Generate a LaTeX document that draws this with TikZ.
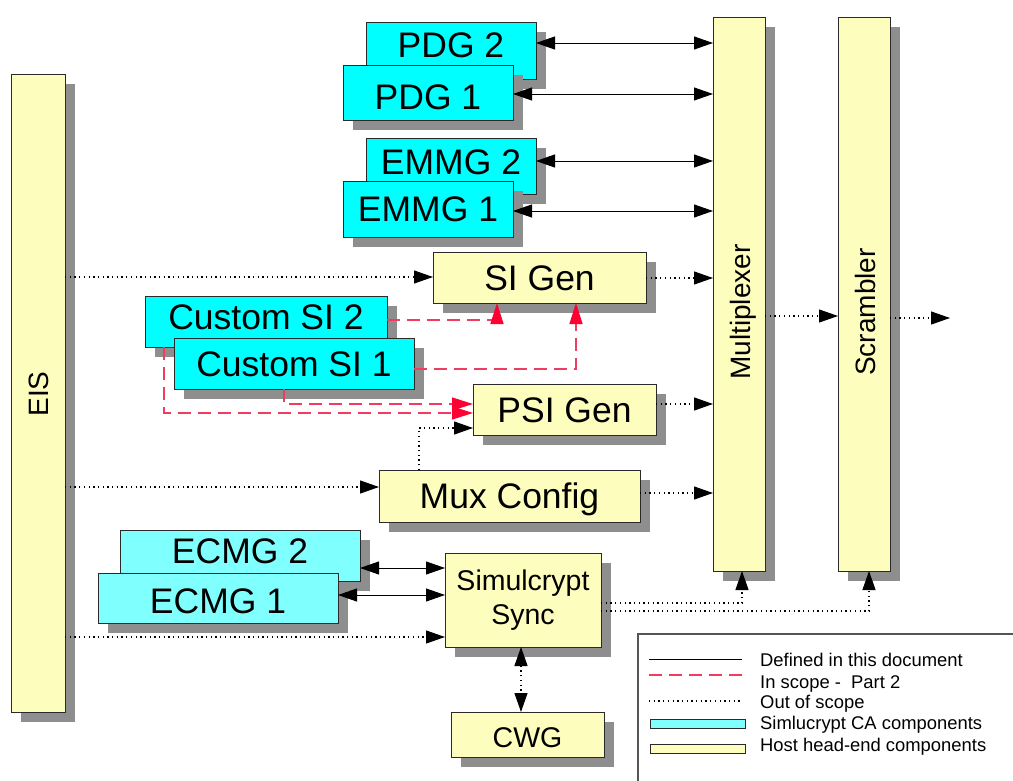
\documentclass[tikz,border=0pt]{standalone}
\usepackage{fontspec}
\setmainfont{Liberation Sans}
\usetikzlibrary{arrows.meta,shadows}
\definecolor{cyanA}{HTML}{00FFFF}
\definecolor{cyanB}{HTML}{80FFFF}
\definecolor{paleY}{HTML}{FDFDBE}
\definecolor{shadeG}{HTML}{8E8E8E}
\definecolor{edgeC}{HTML}{2A2A2A}
\definecolor{redL}{RGB}{240,60,95}
\definecolor{redT}{RGB}{255,0,50}
\tikzset{
  >={Triangle[length=19pt,width=13pt]},
  basebox/.style={draw=edgeC, line width=0.9pt, rectangle, inner sep=0pt, outer sep=0pt,
    drop shadow={shadow xshift=10pt, shadow yshift=-10pt, fill=shadeG, opacity=1, draw=none}},
  cbox/.style={basebox, fill=cyanA},
  lcbox/.style={basebox, fill=cyanB},
  ybox/.style={basebox, fill=paleY},
  big/.style={font=\fontsize{35.5pt}{40pt}\selectfont, text height=25.4pt, text depth=0pt},
  mid/.style={font=\fontsize{28.5pt}{34pt}\selectfont},
  rlbl/.style={rotate=90, font=\fontsize{28pt}{32pt}\selectfont, text height=20pt, text depth=0pt, inner sep=0pt},
  sol/.style={draw=black, line width=0.9pt},
  dotl/.style={draw=black, line width=1.1pt, dash pattern=on 1.3pt off 3.4pt},
  redd/.style={draw=redL, line width=1.2pt, dash pattern=on 13pt off 7pt,
    -{Triangle[length=21pt,width=13pt,color=redT]}},
  leg/.style={font=\fontsize{18.4pt}{22pt}\selectfont, text height=13.2pt, text depth=0pt, inner sep=0pt, anchor=west},
  legframe/.style={draw=edgeC!80, line width=1.4pt}
}
\begin{document}
\begin{tikzpicture}[x=1pt,y=-1pt]
\useasboundingbox (0,0) rectangle (1013,781);
\clip (0,0) rectangle (1013,781);

% tall blocks
\node[ybox, minimum width=54pt, minimum height=638pt] (eis) at (38,393) {};
\node[rlbl] (eislbl) at (38,394) {EIS};
\node[ybox, minimum width=52pt, minimum height=554pt] (mux) at (739,294) {};
\node[rlbl] (muxlbl) at (740,312) {Multiplexer};
\node[ybox, minimum width=52pt, minimum height=554pt] (scr) at (864,294) {};
\node[rlbl] (scrlbl) at (865,312) {Scrambler};

% CA components
\node[cbox, big, minimum width=170pt, minimum height=57pt, text depth=11pt] (pdg2) at (451,50.5) {PDG 2};
\node[cbox, big, minimum width=170pt, minimum height=55pt, text height=33.4pt] (pdg1) at (428,92.5) {PDG 1};
\node[cbox, big, minimum width=170pt, minimum height=56pt, text depth=8pt] (emmg2) at (451,166) {EMMG 2};
\node[cbox, big, minimum width=170pt, minimum height=56pt] (emmg1) at (428,209) {EMMG 1};

\node[ybox, big, minimum width=213pt, minimum height=51pt] (sigen) at (539.5,277.5) {SI Gen};
\node[cbox, big, minimum width=242pt, minimum height=51pt, text depth=10pt] (cs2) at (266,321.5) {Custom SI 2};
\node[cbox, big, minimum width=240pt, minimum height=51pt] (cs1) at (294,363.5) {Custom SI 1};
\node[ybox, big, minimum width=183pt, minimum height=51pt] (psigen) at (564.5,409.5) {PSI Gen};
\node[ybox, big, minimum width=261pt, minimum height=52pt] (muxc) at (509.5,496) {Mux Config};

\node[lcbox, big, minimum width=240pt, minimum height=51pt, text depth=10pt] (ecmg2) at (240,555.5) {ECMG 2};
\node[lcbox, big, minimum width=240pt, minimum height=50pt, text height=31.4pt] (ecmg1) at (218,598) {ECMG 1};
\node[ybox, mid, align=center, minimum width=156pt, minimum height=94pt] (sync) at (523,600) {Simulcrypt\\Sync};
\node[ybox, mid, minimum width=153pt, minimum height=45pt, text height=25.4pt, text depth=0pt] (cwg) at (527.5,734.5) {CWG};

% defined interfaces
\draw[sol, <->] (pdg2.east |- 0,43) -- (mux.west |- 0,43);
\draw[sol, <->] (pdg1.east |- 0,94) -- (mux.west |- 0,94);
\draw[sol, <->] (emmg2.east |- 0,161) -- (mux.west |- 0,161);
\draw[sol, <->] (emmg1.east |- 0,211) -- (mux.west |- 0,211);
\draw[sol, <->] (ecmg2.east |- 0,568) -- (sync.west |- 0,568);
\draw[sol, <->] (ecmg1.east |- 0,595) -- (sync.west |- 0,595);

% out of scope
\draw[dotl, ->] (eis.east |- 0,277) -- (sigen.west |- 0,277);
\draw[dotl, ->] (sigen.east |- 0,278) -- (mux.west |- 0,278);
\draw[dotl, ->] (psigen.east |- 0,404) -- (mux.west |- 0,404);
\draw[dotl, ->] (eis.east |- 0,487) -- (muxc.west |- 0,487);
\draw[dotl, ->] (muxc.east |- 0,493) -- (mux.west |- 0,493);
\draw[dotl, ->] (muxc.north -| 419,0) |- (psigen.west |- 0,428);
\draw[dotl, ->] (eis.east |- 0,637) -- (sync.west |- 0,637);
\draw[dotl, ->] (sync.east |- 0,603) -| (mux.south -| 742,0);
\draw[dotl, ->] (sync.east |- 0,611) -| (scr.south -| 869,0);
\draw[dotl, <->] (sync.south -| 521,0) -- (cwg.north -| 521,0);
\draw[dotl, ->] (mux.east |- 0,316) -- (scr.west |- 0,316);
\coordinate (out) at (950,318);
\draw[dotl, ->] (scr.east |- 0,318) -- (out);

% in scope part 2
\draw[redd] (cs2.east |- 0,320) -| (sigen.south -| 497,0);
\draw[redd] (cs1.east |- 0,369) -| (sigen.south -| 576,0);
\draw[redd] (cs1.south -| 284,0) |- (psigen.west |- 0,404);
\draw[redd] (cs2.south -| 164,0) |- (psigen.west |- 0,413);

% legend
\draw[legframe] (1030,634) -- (638,634) -- (638,800);
\coordinate (l1a) at (649,659); \coordinate (l1b) at (742,659);
\coordinate (l2a) at (649,675); \coordinate (l2b) at (742,675);
\coordinate (l3a) at (649,701); \coordinate (l3b) at (742,701);
\draw[sol] (l1a) -- (l1b);
\draw[draw=redL, line width=1.2pt, dash pattern=on 13pt off 7pt] (l2a) -- (l2b);
\draw[dotl] (l3a) -- (l3b);
\node[draw=edgeC, line width=0.9pt, fill=cyanB, minimum width=95pt, minimum height=9pt, inner sep=0pt] (lgc) at (697.5,723.5) {};
\node[draw=edgeC, line width=0.9pt, fill=paleY, minimum width=95pt, minimum height=9pt, inner sep=0pt] (lgy) at (697.5,748.5) {};
\node[leg] (t1) at (760,660) {Defined in this document};
\node[leg] (t2) at (760,681.5) {In scope -\ \ Part 2};
\node[leg] (t3) at (760,701.5) {Out of scope};
\node[leg] (t4) at (760,722.5) {Simlucrypt CA components};
\node[leg] (t5) at (760,744.5) {Host head-end components};
\end{tikzpicture}
\end{document}
